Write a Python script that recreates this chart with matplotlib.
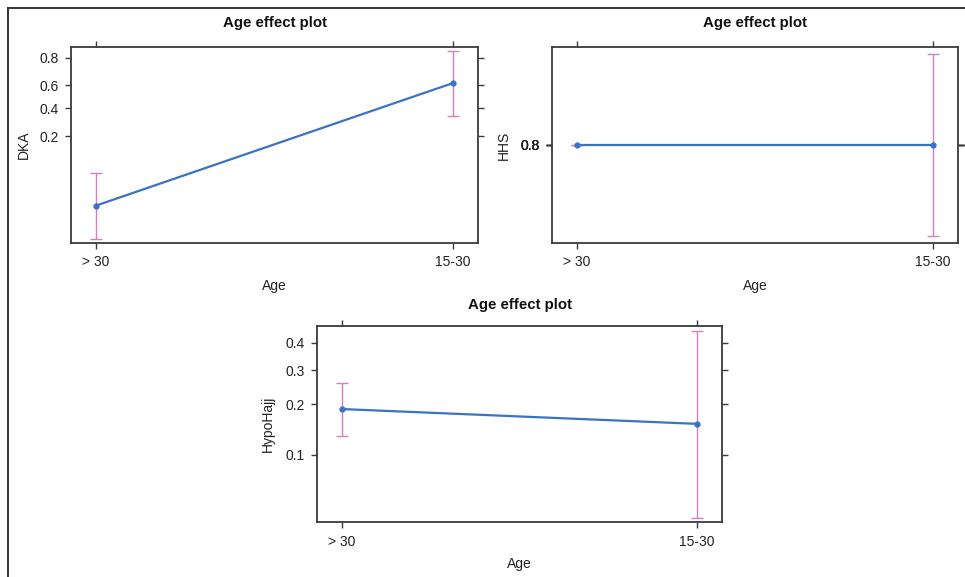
import matplotlib
matplotlib.use("Agg")
import matplotlib.pyplot as plt
from matplotlib.lines import Line2D
from matplotlib.ticker import NullLocator

plt.rcParams['font.family'] = ['Liberation Sans', 'DejaVu Sans']

ages = ['> 30', '15-30']

# DKA (probability, logit scale)
dka_fit = [0.021, 0.619]
dka_lo = [0.0066, 0.34]
dka_hi = [0.063, 0.832]
dka_ticks = [0.2, 0.4, 0.6, 0.8]

# HHS (degenerate fit, link scale)
hhs_fit = [0.0, 0.0]
hhs_lo = [0.0, -0.95]
hhs_hi = [0.0, 0.95]
hhs_ticks = ['0.2', '0.4', '0.6', '0.8']

# HypoHajj (probability, logit scale)
hypo_fit = [0.1875, 0.154]
hypo_lo = [0.130, 0.039]
hypo_hi = [0.259, 0.446]
hypo_ticks = [0.1, 0.2, 0.3, 0.4]

LINE = '#3a72c4'
ERR = '#d27fc0'
FRAME = '#3a3a3a'


def effect_panel(ax, fit, lo, hi, ylabel):
    x = [0, 1]
    yerr = [[f - l for f, l in zip(fit, lo)], [h - f for f, h in zip(fit, hi)]]
    ax.errorbar(x, fit, yerr=yerr, fmt='none', ecolor=ERR, elinewidth=1.0,
                capsize=4.5, capthick=1.0, zorder=2)
    ax.plot(x, fit, color=LINE, lw=1.6, marker='o', ms=3.5, mfc=LINE,
            mec=LINE, zorder=3)
    ax.set_xlim(-0.07, 1.07)
    ax.set_xticks(x)
    ax.set_xticklabels(ages)
    ax.tick_params(top=True, right=True, labeltop=False, labelright=False,
                   direction='out', length=4.5, width=1.0, color=FRAME,
                   labelsize=10, pad=4.5, labelcolor='#222222')
    for s in ax.spines.values():
        s.set_color(FRAME)
        s.set_linewidth(1.3)
    ax.set_xlabel('Age', fontsize=10, color='#222222')
    ax.set_ylabel(ylabel, fontsize=10, color='#222222')


fig = plt.figure(figsize=(9.65, 5.77), dpi=100)
ax1 = fig.add_axes([0.0736, 0.5789, 0.4218, 0.3397])
ax2 = fig.add_axes([0.572, 0.5789, 0.4207, 0.3397])
ax3 = fig.add_axes([0.3285, 0.0953, 0.4197, 0.3397])

effect_panel(ax1, dka_fit, dka_lo, dka_hi, 'DKA')
ax1.set_yscale('logit')
ax1.set_ylim(0.0057, 0.853)
ax1.set_yticks(dka_ticks)
ax1.set_yticklabels([str(t) for t in dka_ticks])
ax1.yaxis.set_minor_locator(NullLocator())

effect_panel(ax2, hhs_fit, hhs_lo, hhs_hi, 'HHS')
ax2.set_ylim(-1.02, 1.02)
ax2.set_yticks([0.0] * len(hhs_ticks))
ax2.set_yticklabels(hhs_ticks)

effect_panel(ax3, hypo_fit, hypo_lo, hypo_hi, 'HypoHajj')
ax3.set_yscale('logit')
ax3.set_ylim(0.0365, 0.4655)
ax3.set_yticks(hypo_ticks)
ax3.set_yticklabels([str(t) for t in hypo_ticks])
ax3.yaxis.set_minor_locator(NullLocator())

ax1.yaxis.set_label_coords(-0.098, 0.5)
ax2.yaxis.set_label_coords(-0.101, 0.5)
ax3.yaxis.set_label_coords(-0.104, 0.5)
ax1.xaxis.set_label_coords(0.5, -0.184)
ax2.xaxis.set_label_coords(0.5, -0.184)
ax3.xaxis.set_label_coords(0.5, -0.179)

W, H = 965.0, 577.0
for ax, yc in [(ax1, 23), (ax2, 23), (ax3, 305)]:
    b = ax.get_position()
    fig.text((b.x0 + b.x1) / 2, 1 - yc / H, 'Age effect plot', ha='center',
             va='center', fontsize=10.8, fontweight='bold', color='#111111')

# outer frame (top and left edges)
fig.add_artist(Line2D([8 / W, 1.0], [1 - 8 / H, 1 - 8 / H], color='#333333',
                      lw=1.4, transform=fig.transFigure))
fig.add_artist(Line2D([8 / W, 8 / W], [1 - 8 / H, 0.0], color='#333333',
                      lw=1.4, transform=fig.transFigure))

fig.savefig('out.png', dpi=100)
